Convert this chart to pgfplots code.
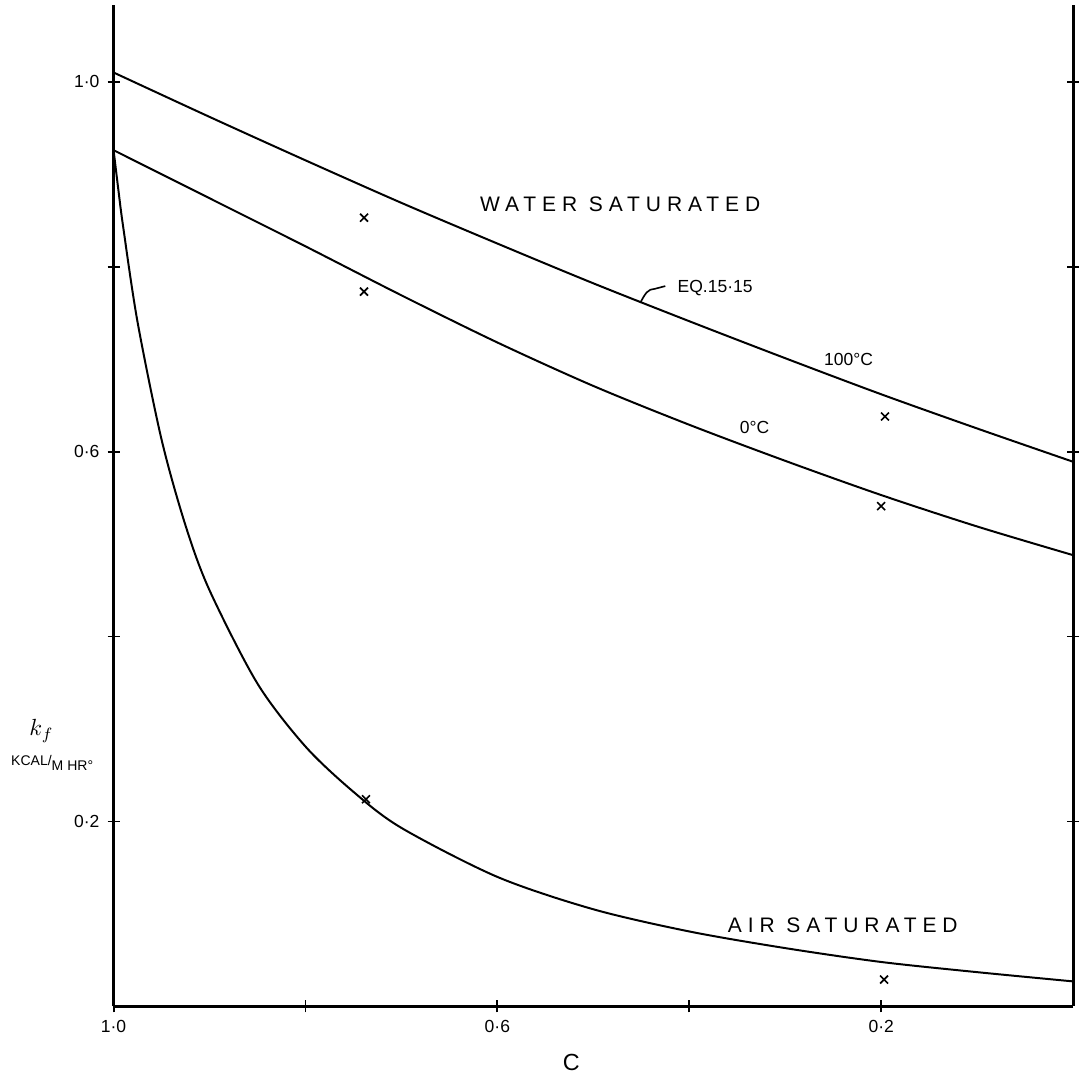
\documentclass[border=0pt]{standalone}
\usepackage{fontspec}
\setmainfont{Liberation Sans}
\newfontfamily\lbl[LetterSpace=28]{Liberation Sans}
\usepackage{pgfplots}
\pgfplotsset{compat=1.18}

\begin{document}
\begin{tikzpicture}
\begin{axis}[
    scale only axis,
    width=14.445cm, height=15.075cm,
    x dir=reverse,
    xmin=0, xmax=1, ymin=0, ymax=1.083,
    axis x line*=bottom,
    axis line style={line width=1.3pt},
    tick align=center,
    major tick length=0.18cm,
    every tick/.style={line width=0.8pt, black},
    xtick={1.0,0.8,0.6,0.4,0.2},
    xticklabels={1·0,,0·6,,0·2},
    ytick={0.2,0.4,0.6,0.8,1.0},
    yticklabels={0·2,,0·6,,1·0},
    ytick pos=both,
    ticklabel style={font=\fontsize{7.5}{8}\selectfont},
    clip=false,
]
% invisible frame so the page matches the reference proportions
\path (rel axis cs:-0.1184,-0.0667) rectangle (rel axis cs:1.0031,1.005);

% 100 C, water saturated (Eq. 15.15)
\addplot[black, line width=0.85pt, smooth] coordinates {
    (1.0, 1.010) (0.9, 0.962) (0.8, 0.915) (0.7, 0.869) (0.6, 0.825)
    (0.5, 0.782) (0.4, 0.741) (0.3, 0.701) (0.2, 0.662) (0.1, 0.625)
    (0.0, 0.589)
};
% 0 C, water saturated
\addplot[black, line width=0.85pt, smooth] coordinates {
    (1.0, 0.926) (0.9, 0.874) (0.8, 0.822) (0.7, 0.769) (0.6, 0.718)
    (0.5, 0.671) (0.4, 0.629) (0.3, 0.590) (0.2, 0.553) (0.1, 0.519)
    (0.0, 0.488)
};
% air saturated
\addplot[black, line width=0.85pt, smooth] coordinates {
    (1.0, 0.926) (0.995, 0.883) (0.99, 0.843) (0.975, 0.740)
    (0.95, 0.613) (0.925, 0.520) (0.9, 0.450) (0.85, 0.349)
    (0.8, 0.281) (0.75, 0.232) (0.7, 0.193) (0.6, 0.140)
    (0.5, 0.105) (0.4, 0.081) (0.3, 0.063) (0.2, 0.048)
    (0.1, 0.037) (0.0, 0.027)
};
% measured points
\addplot[only marks, mark=x, mark size=2.4pt, black, line width=0.7pt] coordinates {
    (0.739, 0.853) (0.739, 0.773) (0.196, 0.638) (0.200, 0.541)
    (0.737, 0.224) (0.197, 0.029)
};

\node[font=\lbl\fontsize{9}{10}\selectfont] at (axis cs:0.472,0.867) {WATER SATURATED};
\node[font=\lbl\fontsize{9}{10}\selectfont] at (axis cs:0.240,0.088) {AIR SATURATED};
\node[font=\fontsize{7.5}{9}\selectfont] at (axis cs:0.234,0.700) {100°C};
\node[font=\fontsize{7.5}{9}\selectfont] at (axis cs:0.332,0.626) {0°C};
\node[anchor=west, inner sep=1pt, font=\fontsize{7.5}{9}\selectfont] at (axis cs:0.415,0.777) {EQ.15·15};
\draw[line width=0.7pt] (axis cs:0.451,0.761) .. controls (axis cs:0.446,0.771) and (axis cs:0.443,0.776) .. (axis cs:0.436,0.776) -- (axis cs:0.425,0.779);

\node[font=\fontsize{10}{12}\selectfont] at (rel axis cs:0.477,-0.056) {C};
\node at (rel axis cs:-0.075,0.275) {$k_f$};
\node[font=\fontsize{6}{7}\selectfont, inner sep=0pt] at (rel axis cs:-0.064,0.243) {KCAL/\raisebox{-0.6ex}{M HR°}};
\end{axis}
\end{tikzpicture}
\end{document}
